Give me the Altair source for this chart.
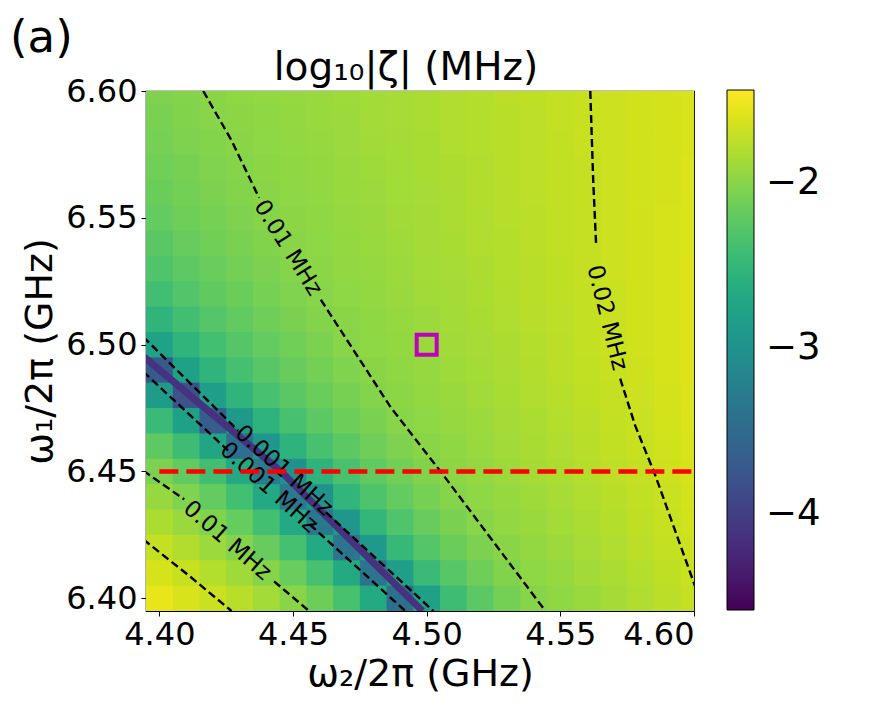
import altair as alt
import pandas as pd

# ---------------- data ----------------
X_CENTERS = [4.40, 4.41, 4.42, 4.43, 4.44, 4.45, 4.46, 4.47, 4.48, 4.49, 4.50,
             4.51, 4.52, 4.53, 4.54, 4.55, 4.56, 4.57, 4.58, 4.59, 4.60]
Y_CENTERS = [6.60, 6.59, 6.58, 6.57, 6.56, 6.55, 6.54, 6.53, 6.52, 6.51, 6.50,
             6.49, 6.48, 6.47, 6.46, 6.45, 6.44, 6.43, 6.42, 6.41, 6.40]
CELL = 0.01

# log10|zeta| (MHz), one row per Y_CENTERS entry, one column per X_CENTERS entry
LOG_ZETA = [
    [-2.05, -2.02, -1.99, -1.97, -1.95, -1.93, -1.91, -1.89, -1.87, -1.85, -1.83, -1.81, -1.79, -1.76, -1.74, -1.72, -1.70, -1.68, -1.66, -1.64, -1.62],
    [-2.07, -2.03, -2.00, -1.98, -1.96, -1.94, -1.92, -1.90, -1.87, -1.85, -1.83, -1.81, -1.79, -1.77, -1.75, -1.72, -1.70, -1.68, -1.66, -1.64, -1.62],
    [-2.09, -2.05, -2.02, -1.99, -1.97, -1.95, -1.93, -1.90, -1.88, -1.86, -1.84, -1.81, -1.79, -1.77, -1.75, -1.73, -1.70, -1.68, -1.66, -1.64, -1.62],
    [-2.12, -2.08, -2.04, -2.01, -1.98, -1.96, -1.94, -1.91, -1.89, -1.87, -1.84, -1.82, -1.80, -1.77, -1.75, -1.73, -1.71, -1.68, -1.66, -1.64, -1.61],
    [-2.15, -2.10, -2.06, -2.02, -1.99, -1.97, -1.95, -1.92, -1.90, -1.87, -1.85, -1.83, -1.80, -1.78, -1.75, -1.73, -1.71, -1.68, -1.66, -1.64, -1.61],
    [-2.19, -2.13, -2.09, -2.05, -2.01, -1.98, -1.96, -1.93, -1.91, -1.88, -1.86, -1.83, -1.81, -1.78, -1.76, -1.73, -1.71, -1.68, -1.66, -1.63, -1.61],
    [-2.24, -2.17, -2.12, -2.07, -2.03, -1.99, -1.97, -1.94, -1.92, -1.89, -1.86, -1.84, -1.81, -1.79, -1.76, -1.73, -1.71, -1.68, -1.66, -1.63, -1.61],
    [-2.30, -2.22, -2.16, -2.10, -2.06, -2.01, -1.98, -1.95, -1.93, -1.90, -1.87, -1.85, -1.82, -1.79, -1.77, -1.74, -1.71, -1.68, -1.66, -1.63, -1.60],
    [-2.39, -2.29, -2.21, -2.15, -2.09, -2.04, -2.00, -1.97, -1.94, -1.91, -1.88, -1.86, -1.83, -1.80, -1.77, -1.74, -1.72, -1.69, -1.66, -1.63, -1.60],
    [-2.53, -2.39, -2.28, -2.20, -2.13, -2.07, -2.02, -1.99, -1.96, -1.93, -1.90, -1.87, -1.84, -1.81, -1.78, -1.75, -1.72, -1.69, -1.66, -1.63, -1.60],
    [-2.78, -2.53, -2.38, -2.27, -2.19, -2.12, -2.06, -2.00, -1.97, -1.94, -1.91, -1.88, -1.85, -1.82, -1.79, -1.76, -1.72, -1.69, -1.66, -1.63, -1.60],
    [-3.70, -2.80, -2.53, -2.37, -2.26, -2.17, -2.10, -2.04, -1.99, -1.96, -1.93, -1.89, -1.86, -1.83, -1.80, -1.76, -1.73, -1.70, -1.67, -1.63, -1.60],
    [-2.85, -3.80, -2.83, -2.53, -2.36, -2.24, -2.15, -2.08, -2.02, -1.98, -1.94, -1.91, -1.88, -1.84, -1.81, -1.78, -1.74, -1.71, -1.68, -1.64, -1.61],
    [-2.45, -2.79, -3.67, -2.88, -2.54, -2.36, -2.23, -2.14, -2.07, -2.00, -1.97, -1.93, -1.90, -1.86, -1.83, -1.79, -1.76, -1.72, -1.69, -1.65, -1.61],
    [-2.22, -2.42, -2.73, -3.44, -2.94, -2.55, -2.35, -2.23, -2.13, -2.05, -1.99, -1.96, -1.92, -1.88, -1.84, -1.81, -1.77, -1.73, -1.70, -1.66, -1.62],
    [-2.06, -2.20, -2.39, -2.68, -3.29, -3.01, -2.55, -2.35, -2.21, -2.11, -2.03, -1.98, -1.94, -1.90, -1.86, -1.83, -1.79, -1.75, -1.71, -1.67, -1.63],
    [-1.93, -2.04, -2.19, -2.38, -2.68, -3.31, -2.96, -2.52, -2.32, -2.19, -2.09, -2.01, -1.97, -1.93, -1.89, -1.85, -1.81, -1.77, -1.73, -1.69, -1.65],
    [-1.82, -1.91, -2.03, -2.18, -2.38, -2.68, -3.33, -2.92, -2.50, -2.30, -2.17, -2.07, -2.00, -1.95, -1.91, -1.87, -1.83, -1.79, -1.74, -1.70, -1.66],
    [-1.72, -1.80, -1.90, -2.02, -2.17, -2.37, -2.67, -3.36, -2.88, -2.47, -2.28, -2.15, -2.06, -1.99, -1.94, -1.90, -1.85, -1.81, -1.76, -1.72, -1.68],
    [-1.63, -1.70, -1.79, -1.89, -2.01, -2.16, -2.36, -2.67, -3.39, -2.83, -2.45, -2.26, -2.13, -2.03, -1.97, -1.93, -1.88, -1.83, -1.79, -1.74, -1.69],
    [-1.55, -1.62, -1.69, -1.77, -1.87, -1.99, -2.14, -2.35, -2.67, -3.43, -2.79, -2.42, -2.23, -2.10, -2.01, -1.96, -1.91, -1.86, -1.81, -1.76, -1.71],
]
COLOR_DOMAIN = [-4.58, -1.44]
COLORBAR_TICKS = [-4, -3, -2]

# zero-crossing of zeta (dark band)
BAND_X = [4.394, 4.4455, 4.4966, 4.4985]
BAND_Y = [6.4954, 6.4500, 6.3969, 6.3950]

# dashed contour pieces (x list, y list), broken where the labels sit
CONTOURS = {
    "c001_up_a": ([4.394, 4.4295], [6.5030, 6.4661]),
    "c001_up_b": ([4.4623, 4.5025], [6.4339, 6.3950]),
    "c001_lo_a": ([4.394, 4.4257], [6.4893, 6.4583]),
    "c001_lo_b": ([4.4563, 4.4920], [6.4291, 6.3950]),
    "c01_up_a": ([4.4164, 4.4269, 4.4373], [6.6000, 6.5807, 6.5579]),
    "c01_up_b": ([4.4604, 4.4866, 4.5052, 4.5246, 4.5444], [6.5177, 6.4752, 6.4500, 6.4228, 6.3950]),
    "c02_rt_a": ([4.5612, 4.5623, 4.5634], [6.6000, 6.5646, 6.5390]),
    "c02_rt_b": ([4.5724, 4.5780, 4.5854, 4.5929, 4.5996, 4.6010], [6.4866, 6.4681, 6.4488, 6.4268, 6.4071, 6.4030]),
    "c01_lo_a": ([4.394, 4.4093], [6.4503, 6.4390]),
    "c01_lo_b": ([4.4429, 4.4560], [6.4067, 6.3950]),
    "c02_lo": ([4.394, 4.4110, 4.4270], [6.4232, 6.4090, 6.3950]),
}

LABEL_TEXT = ["0.001 MHz", "0.001 MHz", "0.01 MHz", "0.02 MHz", "0.01 MHz"]
LABEL_X = [4.4466, 4.4410, 4.4481, 4.5675, 4.4254]
LABEL_Y = [6.4504, 6.4437, 6.5382, 6.5106, 6.4228]
LABEL_ANGLE = [42, 42, 58, 76, 41]

RED_LINE_Y = 6.45
RED_LINE_X = [4.40, 4.60]
MARKER_X = [4.50]
MARKER_Y = [6.50]

X_TICKS = [4.40, 4.45, 4.50, 4.55, 4.60]
Y_TICKS = [6.40, 6.45, 6.50, 6.55, 6.60]
PANEL_LABEL = "(a)"
TITLE = "log₁₀|ζ| (MHz)"
X_TITLE = "ω₂/2π (GHz)"
Y_TITLE = "ω₁/2π (GHz)"

# ---------------- tables ----------------
SEAM = 0.0003  # tiny overlap so neighbouring cells leave no hairline gaps
assert len(LOG_ZETA) == len(Y_CENTERS)
rows = []
for j, yc in enumerate(Y_CENTERS):
    assert len(LOG_ZETA[j]) == len(X_CENTERS)
    for i, xc in enumerate(X_CENTERS):
        rows.append({"x0": xc - CELL / 2, "x1": xc + CELL / 2 + SEAM,
                     "y0": yc - CELL / 2 - SEAM, "y1": yc + CELL / 2,
                     "v": LOG_ZETA[j][i]})
heat_df = pd.DataFrame(rows)

crows = []
for name, (xs, ys) in CONTOURS.items():
    for k, (xv, yv) in enumerate(zip(xs, ys)):
        crows.append({"seg": name, "o": k, "x": xv, "y": yv})
cont_df = pd.DataFrame(crows)

band_df = pd.DataFrame({"x": BAND_X, "y": BAND_Y, "o": list(range(len(BAND_X)))})
lab_df = pd.DataFrame({"t": LABEL_TEXT, "x": LABEL_X, "y": LABEL_Y, "a": LABEL_ANGLE})
red_df = pd.DataFrame({"x0": [RED_LINE_X[0]], "x1": [RED_LINE_X[1]], "y": [RED_LINE_Y]})
mk_df = pd.DataFrame({"x": MARKER_X, "y": MARKER_Y})
pl_df = pd.DataFrame({"t": [PANEL_LABEL]})
ti_df = pd.DataFrame({"t": [TITLE]})

FONT = "DejaVu Sans"
xscale = alt.Scale(domain=[4.395, 4.60], nice=False, zero=False)
yscale = alt.Scale(domain=[6.395, 6.60], nice=False, zero=False)
xaxis = alt.Axis(values=X_TICKS, format=".2f", title=X_TITLE, grid=False,
                 labelPadding=3, titlePadding=5)
yaxis = alt.Axis(values=Y_TICKS, format=".2f", title=Y_TITLE, grid=False,
                 labelPadding=4, titlePadding=6)


def XE(f):
    return alt.X(f"{f}:Q", scale=xscale, axis=xaxis)


def YE(f):
    return alt.Y(f"{f}:Q", scale=yscale, axis=yaxis)


heat = alt.Chart(heat_df).mark_rect(clip=True).encode(
    x=XE("x0"), x2="x1:Q", y=YE("y0"), y2="y1:Q",
    color=alt.Color("v:Q", title=None,
                    scale=alt.Scale(scheme="viridis", domain=COLOR_DOMAIN, nice=False, zero=False),
                    legend=alt.Legend(orient="none", legendX=581, legendY=-1, direction="vertical",
                                      type="gradient",
                                      gradientLength=520, gradientThickness=27,
                                      values=COLORBAR_TICKS, format="d",
                                      labelFontSize=37, labelFont=FONT, labelColor="black",
                                      labelOffset=12, gradientStrokeColor="black",
                                      gradientStrokeWidth=1, padding=0)),
)

band = alt.Chart(band_df).mark_line(clip=True, color="#46327e", strokeWidth=7).encode(
    x=XE("x"), y=YE("y"), order="o:Q")

contours = alt.Chart(cont_df).mark_line(clip=True, color="black", strokeWidth=2.4,
                                        strokeDash=[8, 4]).encode(
    x=XE("x"), y=YE("y"), detail="seg:N", order="o:Q")

labels = alt.Chart(lab_df).mark_text(fontSize=23, font=FONT, color="black",
                                     align="center", baseline="middle").encode(
    x=XE("x"), y=YE("y"), text="t:N", angle=alt.Angle("a:Q", scale=None))

red = alt.Chart(red_df).mark_rule(clip=True, color="#ff0000", strokeWidth=4.5,
                                  strokeDash=[19, 8]).encode(
    x=XE("x0"), x2="x1:Q", y=YE("y"))

marker = alt.Chart(mk_df).mark_point(shape="square", filled=False, size=400,
                                     strokeWidth=4, color="#bf00bf", opacity=1).encode(
    x=XE("x"), y=YE("y"))

panel = alt.Chart(pl_df).mark_text(fontSize=45, font=FONT, color="black",
                                   align="left", baseline="alphabetic").encode(
    x=alt.value(-136), y=alt.value(-39), text="t:N")

title = alt.Chart(ti_df).mark_text(fontSize=39, font=FONT, color="black",
                                   align="center", baseline="alphabetic").encode(
    x=alt.value(260), y=alt.value(-11), text="t:N")

chart = alt.layer(heat, band, contours, labels, red, marker, panel, title).properties(
    width=548, height=520,
    autosize=alt.AutoSizeParams(type="none"),
    padding={"left": 138, "top": 83, "right": 150, "bottom": 88},
).configure_view(stroke="black", strokeWidth=1.2).configure_axis(
    labelFont=FONT, labelFontSize=32, labelColor="black", tickColor="black",
    domainColor="black", tickSize=5,
    titleFont=FONT, titleFontSize=38, titleFontWeight="normal", titleColor="black",
)

chart.save("out.html", embed_options={"renderer": "svg", "actions": False})
